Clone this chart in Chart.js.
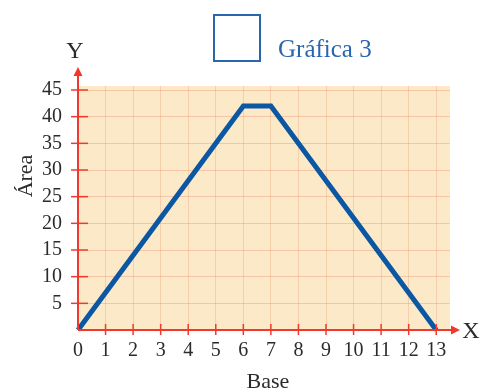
<!DOCTYPE html>
<html>
<head>
<meta charset="utf-8">
<script src="https://cdn.jsdelivr.net/npm/chart.js@4/dist/chart.umd.min.js"></script>
<style>
  html, body { margin: 0; padding: 0; background: #ffffff; }
  #wrap { position: relative; width: 481px; height: 392px; }
  #legendBox { position: absolute; left: 213px; top: 14px; width: 44px; height: 44px; border: 2px solid #2a66ad; }
  #legendText { position: absolute; left: 278px; top: 35px; font-family: 'Liberation Serif', serif; font-size: 25px; color: #2a66ad; line-height: 28px; white-space: nowrap; }
</style>
</head>
<body>
<div id="wrap">
  <canvas id="c" width="481" height="392"></canvas>
  <div id="legendBox"></div>
  <div id="legendText">Gráfica 3</div>
</div>
<script>
const seriesName = 'Gráfica 3';
const baseValues = [0, 6, 7, 13];
const areaValues = [0, 42, 42, 0];
const xTickValues = [0, 1, 2, 3, 4, 5, 6, 7, 8, 9, 10, 11, 12, 13];
const yTickValues = [5, 10, 15, 20, 25, 30, 35, 40, 45];
const xTitle = 'Base';
const yTitle = 'Área';
const xAxisLetter = 'X';
const yAxisLetter = 'Y';

const RED = '#f2382c';
const FONT = "'Liberation Serif', serif";

const decor = {
  id: 'decor',
  beforeDraw(chart) {
    const { ctx, chartArea: a } = chart;
    ctx.save();
    ctx.fillStyle = '#fbe9c8';
    ctx.fillRect(a.left, a.top, a.right - a.left, a.bottom - a.top);
    ctx.restore();
  },
  afterDraw(chart) {
    const { ctx, scales } = chart;
    const x0 = scales.x.getPixelForValue(0);
    const y0 = scales.y.getPixelForValue(0);
    ctx.save();
    ctx.strokeStyle = RED;
    ctx.fillStyle = RED;
    ctx.lineWidth = 2;
    ctx.beginPath(); ctx.moveTo(x0, y0); ctx.lineTo(x0, 74); ctx.stroke();
    ctx.beginPath(); ctx.moveTo(x0, 67); ctx.lineTo(x0 - 4.5, 76); ctx.lineTo(x0 + 4.5, 76); ctx.closePath(); ctx.fill();
    ctx.beginPath(); ctx.moveTo(x0, y0); ctx.lineTo(452, y0); ctx.stroke();
    ctx.beginPath(); ctx.moveTo(460, y0); ctx.lineTo(451, y0 - 4.5); ctx.lineTo(451, y0 + 4.5); ctx.closePath(); ctx.fill();
    ctx.lineWidth = 1.5;
    yTickValues.forEach(v => {
      const p = scales.y.getPixelForValue(v);
      ctx.beginPath(); ctx.moveTo(x0 - 7, p); ctx.lineTo(x0 + 10, p); ctx.stroke();
    });
    xTickValues.forEach(v => {
      if (v === 0) return;
      const p = scales.x.getPixelForValue(v);
      ctx.beginPath(); ctx.moveTo(p, y0 - 6); ctx.lineTo(p, y0 + 5); ctx.stroke();
    });
    ctx.fillStyle = '#2b2b2b';
    ctx.textAlign = 'center';
    ctx.textBaseline = 'middle';
    ctx.font = '22px ' + FONT;
    ctx.fillText(xTitle, 268, 382);
    ctx.font = '24px ' + FONT;
    ctx.fillText(yAxisLetter, 75, 52);
    ctx.fillText(xAxisLetter, 471, 332);
    ctx.save();
    ctx.translate(26, 176);
    ctx.rotate(-Math.PI / 2);
    ctx.font = '22px ' + FONT;
    ctx.fillText(yTitle, 0, 0);
    ctx.restore();
    ctx.restore();
  }
};

new Chart(document.getElementById('c'), {
  type: 'line',
  data: {
    datasets: [{
      label: seriesName,
      data: baseValues.map((b, i) => ({ x: b, y: areaValues[i] })),
      borderColor: '#0b57a4',
      borderWidth: 5,
      borderJoinStyle: 'miter',
      pointRadius: 0,
      fill: false,
      tension: 0,
      clip: false
    }]
  },
  options: {
    responsive: false,
    animation: false,
    events: [],
    layout: { padding: { top: 86, right: 31, left: 0, bottom: 0 } },
    plugins: { legend: { display: false }, tooltip: { enabled: false } },
    scales: {
      x: {
        type: 'linear',
        min: 0,
        max: 13.5,
        afterBuildTicks: s => { s.ticks = xTickValues.map(v => ({ value: v })); },
        afterFit: s => { s.height = 62; },
        grid: { color: 'rgba(238,150,115,0.32)', lineWidth: 1, drawTicks: false },
        border: { display: false },
        ticks: { autoSkip: false, maxRotation: 0, padding: 9, color: '#2b2b2b', font: { family: FONT, size: 20 } }
      },
      y: {
        type: 'linear',
        min: 0,
        max: 45.75,
        afterBuildTicks: s => { s.ticks = yTickValues.map(v => ({ value: v })); },
        afterFit: s => { s.width = 78; },
        grid: { color: 'rgba(238,140,110,0.38)', lineWidth: 1, drawTicks: false },
        border: { display: false },
        ticks: { autoSkip: false, padding: 16, color: '#2b2b2b', font: { family: FONT, size: 20 } }
      }
    }
  },
  plugins: [decor]
});
</script>
</body>
</html>
